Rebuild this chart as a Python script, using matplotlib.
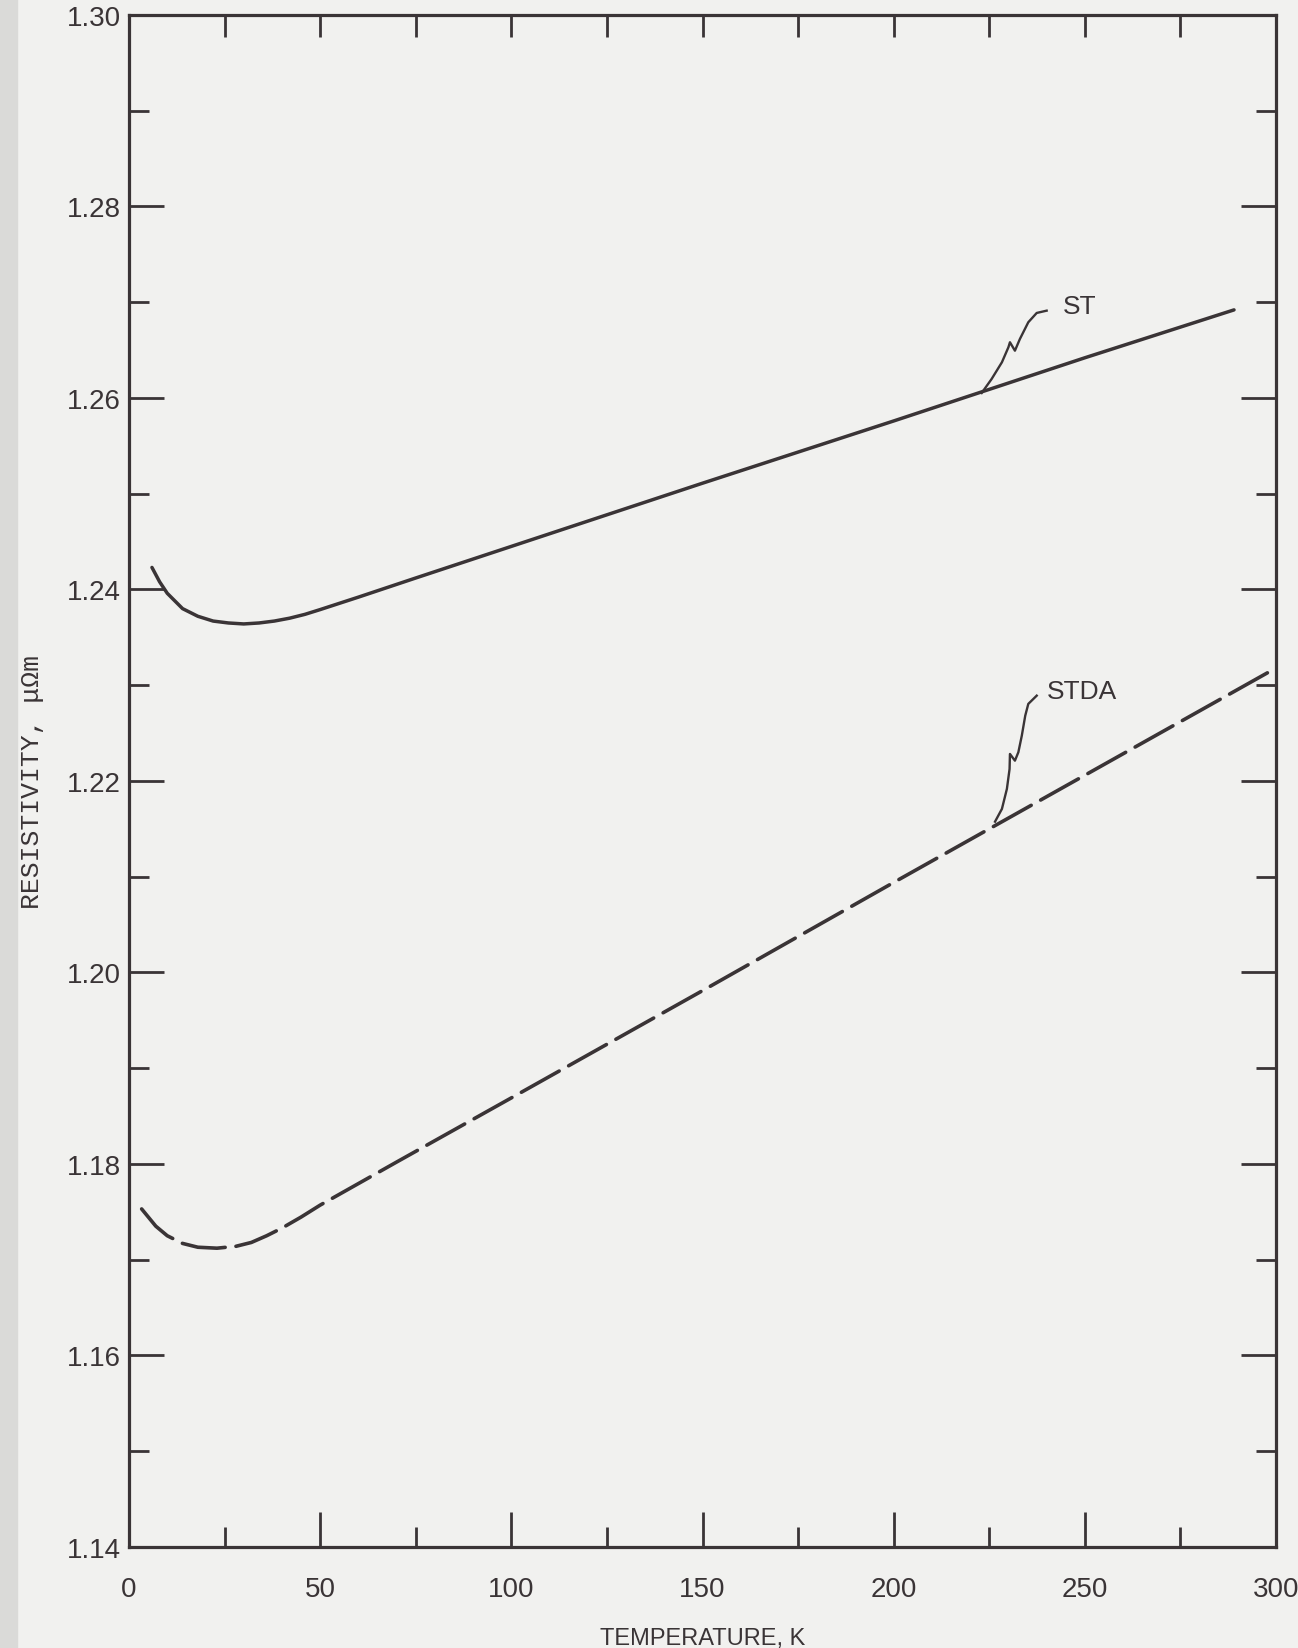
import matplotlib
matplotlib.use("Agg")
import matplotlib.pyplot as plt
from matplotlib.ticker import MultipleLocator
from matplotlib.patches import Rectangle

plt.rcParams["font.family"] = ["Liberation Sans", "DejaVu Sans"]

# ---- 数据 ----
st_T = [6, 8, 10, 14, 18, 22, 26, 30, 34, 38, 42, 46, 50, 60, 75, 100, 150, 200, 250, 289]
st_rho = [1.2423, 1.2408, 1.2396, 1.2380, 1.2372, 1.2367, 1.2365, 1.2364, 1.2365, 1.2367,
          1.2370, 1.2374, 1.2379, 1.2392, 1.2412, 1.2445, 1.2511, 1.2576, 1.2642, 1.2692]

stda_T = [3.3, 7, 10, 14, 18, 23, 28, 32, 36, 40, 45, 50, 70, 100, 150, 200, 250, 300]
stda_rho = [1.1753, 1.1735, 1.1725, 1.1717, 1.1713, 1.1712, 1.1714, 1.1718, 1.1725, 1.1733,
            1.17445, 1.1757, 1.1802, 1.1869, 1.1981, 1.2094, 1.2206, 1.2318]

# 手绘引线 (数据坐标)
st_leader_T = [223.0, 225.6, 228.3, 230.0, 230.4, 231.7, 233.0, 235.2, 237.4, 240.0]
st_leader_rho = [1.26052, 1.26198, 1.26373, 1.26530, 1.26582, 1.26494, 1.26616, 1.26791, 1.26888, 1.26912]
stda_leader_T = [226.5, 228.3, 229.6, 230.3, 230.4, 231.7, 232.6, 233.5, 234.4, 235.2, 237.4]
stda_leader_rho = [1.21575, 1.21708, 1.21917, 1.22125, 1.22282, 1.22212, 1.22300, 1.22473,
                   1.22682, 1.22805, 1.22891]

INK = "#3a3436"
BG = "#f1f1ef"

fig = plt.figure(figsize=(12.98, 16.49), dpi=100, facecolor=BG)
# 扫描件左侧灰边
fig.patches.append(Rectangle((0, 0), 0.013, 1, transform=fig.transFigure,
                             color="#dadad8", zorder=0))
ax = fig.add_axes([0.0994, 0.0613, 0.8837, 0.929])
ax.set_facecolor(BG)

ax.plot(st_T, st_rho, color=INK, lw=2.5, solid_capstyle="round", solid_joinstyle="round")
ax.plot(stda_T, stda_rho, color=INK, lw=2.6, ls=(0, (12, 3)), dash_capstyle="round")

ax.plot(st_leader_T, st_leader_rho, color=INK, lw=1.7, solid_joinstyle="round")
ax.plot(stda_leader_T, stda_leader_rho, color=INK, lw=1.7, solid_joinstyle="round")
ax.text(244.3, 1.26964, "ST", fontsize=19, color=INK, va="center", ha="left")
ax.text(240.0, 1.22943, "STDA", fontsize=19, color=INK, va="center", ha="left")

ax.set_xlim(0, 300)
ax.set_ylim(1.14, 1.30)
ax.xaxis.set_major_locator(MultipleLocator(50))
ax.xaxis.set_minor_locator(MultipleLocator(25))
ax.yaxis.set_major_locator(MultipleLocator(0.02))
ax.yaxis.set_minor_locator(MultipleLocator(0.01))
ax.yaxis.set_major_formatter(lambda v, p: f"{v:.2f}")

for s in ax.spines.values():
    s.set_linewidth(2.3)
    s.set_color(INK)

ax.tick_params(which="both", direction="in", colors=INK, width=2.0,
               left=True, right=True, bottom=True, top=False, labelsize=20)
ax.tick_params(which="major", length=25)
ax.tick_params(which="minor", length=14.5)
ax.tick_params(axis="x", pad=21)
ax.tick_params(axis="y", pad=6)

# 顶部刻度长度一致
top = ax.secondary_xaxis("top")
top.xaxis.set_major_locator(MultipleLocator(25))
top.tick_params(direction="in", length=16, width=2.0, colors=INK, labeltop=False)
top.spines["top"].set_visible(False)

ax.set_xlabel("TEMPERATURE, K", fontsize=17, color=INK)
ax.xaxis.set_label_coords(0.5, -0.0594)
ax.xaxis.label.set_va("center")
ax.set_ylabel("RESISTIVITY, μΩm", fontsize=19, color=INK, family=["Liberation Mono", "DejaVu Sans Mono"])
ax.yaxis.set_label_coords(-0.085, 0.5)
ax.yaxis.label.set_va("center")

fig.savefig("out.png", dpi=100, facecolor=BG)
